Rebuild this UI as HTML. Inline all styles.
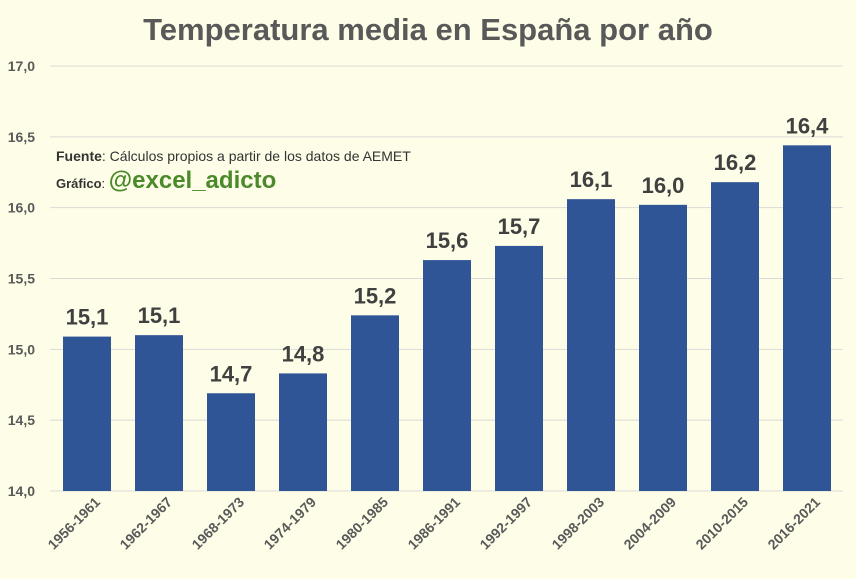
<!DOCTYPE html>
<html><head><meta charset="utf-8"><style>
body{margin:0;background:#fefee8;}
svg{display:block;font-family:"Liberation Sans",sans-serif;}
</style></head><body>
<svg id="c" width="856" height="579">
<rect width="856" height="579" fill="#fefee8"/>
<text x="428" y="40" text-anchor="middle" font-size="31" font-weight="bold" fill="#595959">Temperatura media en España por año</text>
<g id="grid"></g><g id="bars"></g><g id="labels"></g>
<text x="56" y="161" font-size="14" fill="#333"><tspan font-weight="bold">Fuente</tspan>: Cálculos propios a partir de los datos de AEMET</text>
<text x="56" y="188" font-size="13" fill="#333"><tspan font-weight="bold">Gráfico</tspan>: <tspan font-size="24" font-weight="bold" fill="#4a8a2a">@excel_adicto</tspan></text>
</svg>
<script>
const categories=["1956-1961","1962-1967","1968-1973","1974-1979","1980-1985","1986-1991","1992-1997","1998-2003","2004-2009","2010-2015","2016-2021"];
const values=[15.09,15.1,14.69,14.83,15.24,15.63,15.73,16.06,16.02,16.18,16.44];
const valueLabels=["15,1","15,1","14,7","14,8","15,2","15,6","15,7","16,1","16,0","16,2","16,4"];
const yTicks=[14.0,14.5,15.0,15.5,16.0,16.5,17.0];
const yTickLabels=["14,0","14,5","15,0","15,5","16,0","16,5","17,0"];
const NS="http://www.w3.org/2000/svg";
const left=51,step=72,barW=48,yMin=14,yMax=17,yBot=491,yTop=66;
const y=v=>yBot-(v-yMin)/(yMax-yMin)*(yBot-yTop);
const xc=i=>left+step/2+i*step;
function mk(t,a,p){const e=document.createElementNS(NS,t);for(const k in a)e.setAttribute(k,a[k]);p.appendChild(e);return e;}
const g=document.getElementById('grid'),b=document.getElementById('bars'),l=document.getElementById('labels');
yTicks.forEach((t,i)=>{
 const ln=mk('line',{x1:50,x2:left+step*categories.length,y1:y(t),y2:y(t),stroke:'#d9d9d9','stroke-width':1},g);
 
 
 const tx=mk('text',{x:35,y:y(t)+5,'text-anchor':'end','font-size':14,'font-weight':'bold',fill:'#595959'},g);
 tx.textContent=yTickLabels[i];
 
 
});
categories.forEach((c,i)=>{
 const r=mk('rect',{x:xc(i)-barW/2,y:y(values[i]),width:barW,height:yBot-y(values[i]),fill:'#2f5597'},b);
 
 
 const v=mk('text',{x:xc(i),y:y(values[i])-12,'text-anchor':'middle','font-size':22,'font-weight':'bold',fill:'#404040'},l);
 v.textContent=valueLabels[i];
 
 
 const cx=xc(i)+14,cy=503;
 const t=mk('text',{x:cx,y:cy,'text-anchor':'end','font-size':14,'font-weight':'bold',fill:'#595959',transform:`rotate(-45 ${cx} ${cy})`},l);
 t.textContent=c;
 
 
});
</script>
</body></html>
